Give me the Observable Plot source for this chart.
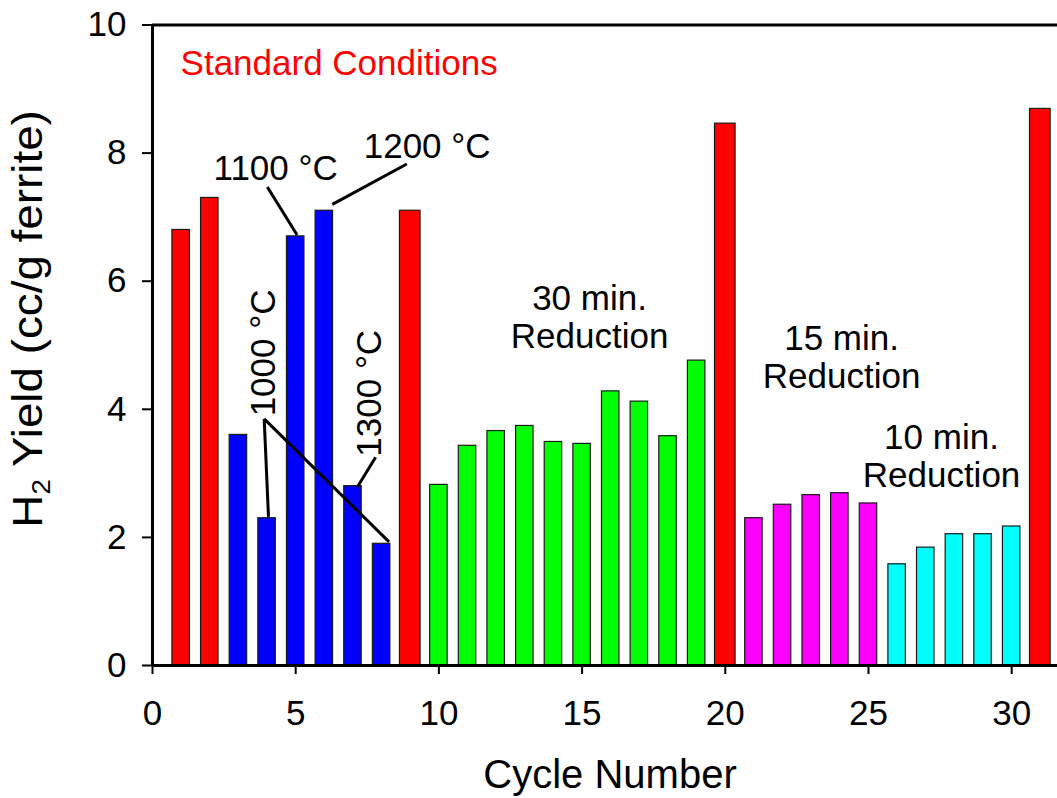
<!DOCTYPE html>
<html>
<head>
<meta charset="utf-8">
<script src="https://cdn.jsdelivr.net/npm/d3@7"></script>
<script src="https://cdn.jsdelivr.net/npm/@observablehq/plot@0.6"></script>
<style>
  html, body { margin: 0; padding: 0; background: #fff; }
  #chart svg { display: block; }
</style>
</head>
<body>
<div id="chart"></div>
<script>
// ---- data ----
const cycles = [1,2,3,4,5,6,7,8,9,10,11,12,13,14,15,16,17,18,19,20,21,22,23,24,25,26,27,28,29,30,31];
const yields = [6.80,7.30,3.60,2.30,6.70,7.10,2.80,1.90,7.10,2.82,3.43,3.66,3.74,3.49,3.46,4.28,4.12,3.58,4.76,8.46,2.30,2.51,2.66,2.69,2.53,1.58,1.84,2.05,2.05,2.17,8.69];
const groups = ["Standard","Standard","Temperature","Temperature","Temperature","Temperature","Temperature","Temperature","Standard",
  "30 min","30 min","30 min","30 min","30 min","30 min","30 min","30 min","30 min","30 min","Standard",
  "15 min","15 min","15 min","15 min","15 min","10 min","10 min","10 min","10 min","10 min","Standard"];
const groupNames = ["Standard","Temperature","30 min","15 min","10 min"];
const groupColors = ["#ff0000","#0000ff","#00ff00","#ff00ff","#00ffff"];
const xTicks = [0,5,10,15,20,25,30];
const yTicks = [0,2,4,6,8,10];

// annotation texts (data coordinates)
const titleLabel = [{text: "Standard Conditions", x: 0.98, y: 9.40}];
const centerLabels = [
  {text: "1100 °C", x: 4.30, y: 7.77},
  {text: "1200 °C", x: 9.59, y: 8.11},
  {text: "30 min.\nReduction", x: 15.26, y: 5.44},
  {text: "15 min.\nReduction", x: 24.06, y: 4.82},
  {text: "10 min.\nReduction", x: 27.55, y: 3.27}
];
const rotatedLabels = [
  {text: "1000 °C", x: 3.90, y: 4.88},
  {text: "1300 °C", x: 7.58, y: 4.25}
];
const leaders = [
  {x1: 4.01, y1: 7.47, x2: 5.05, y2: 6.72},
  {x1: 6.28, y1: 7.20, x2: 8.88, y2: 7.83},
  {x1: 3.90, y1: 3.85, x2: 4.05, y2: 2.32},
  {x1: 3.90, y1: 3.85, x2: 8.26, y2: 1.93},
  {x1: 7.79, y1: 3.25, x2: 7.16, y2: 2.79}
];

const data = cycles.map((c, i) => ({cycle: c, yield: yields[i], group: groups[i]}));
const halfWidth = d => (d.group === "Standard" && d.cycle > 2) ? 0.36 : 0.305;

const font = "'Liberation Sans', Arial, Helvetica, sans-serif";

const svg = Plot.plot({
  width: 1057,
  height: 798,
  marginLeft: 152,
  marginRight: 0,
  marginTop: 24.5,
  marginBottom: 133,
  style: {fontFamily: font, background: "#fff", overflow: "visible"},
  x: {domain: [0, 31.6]},
  y: {domain: [0, 10]},
  color: {domain: groupNames, range: groupColors},
  marks: [
    Plot.rectY(data, {
      x1: d => d.cycle - halfWidth(d),
      x2: d => d.cycle + halfWidth(d),
      y: "yield",
      fill: "group",
      stroke: "#1a1a1a",
      strokeWidth: 1.2
    }),
    Plot.axisX({ticks: xTicks, tickSize: 9, tickPadding: 26, fontSize: 35, strokeWidth: 2, label: null, tickFormat: d => String(d)}),
    Plot.axisY({ticks: yTicks, tickSize: 10, tickPadding: 16, fontSize: 35, strokeWidth: 2, label: null, tickFormat: d => String(d)}),
    Plot.ruleY([0], {stroke: "#000", strokeWidth: 3}),
    Plot.ruleY([10], {stroke: "#000", strokeWidth: 3}),
    Plot.ruleX([0], {stroke: "#000", strokeWidth: 3}),
    Plot.link(leaders, {x1: "x1", y1: "y1", x2: "x2", y2: "y2", stroke: "#000", strokeWidth: 3}),
    Plot.text(titleLabel, {
      x: "x", y: "y", text: "text", fill: "#ff0000",
      textAnchor: "start", lineAnchor: "middle", fontSize: 35
    }),
    Plot.text(centerLabels, {
      x: "x", y: "y", text: "text", fill: "#000",
      textAnchor: "middle", lineAnchor: "middle", fontSize: 35, lineHeight: 1.08
    }),
    Plot.text(rotatedLabels, {
      x: "x", y: "y", text: "text", fill: "#000", rotate: -90,
      textAnchor: "middle", lineAnchor: "middle", fontSize: 35
    })
  ]
});

// axis titles
const s = d3.select(svg);
const yt = s.append("text")
  .attr("transform", "translate(42,319) rotate(-90) scale(1.09,1)")
  .attr("text-anchor", "middle")
  .attr("font-family", font)
  .attr("font-size", 42)
  .attr("fill", "#000");
yt.append("tspan").text("H");
yt.append("tspan").attr("font-size", 26).attr("dy", 8).text("2");
yt.append("tspan").attr("dy", -8).text(" Yield (cc/g ferrite)");

s.append("text")
  .attr("x", 610)
  .attr("y", 788)
  .attr("text-anchor", "middle")
  .attr("font-family", font)
  .attr("font-size", 40)
  .attr("fill", "#000")
  .text("Cycle Number");

document.getElementById("chart").appendChild(svg);
</script>
</body>
</html>
